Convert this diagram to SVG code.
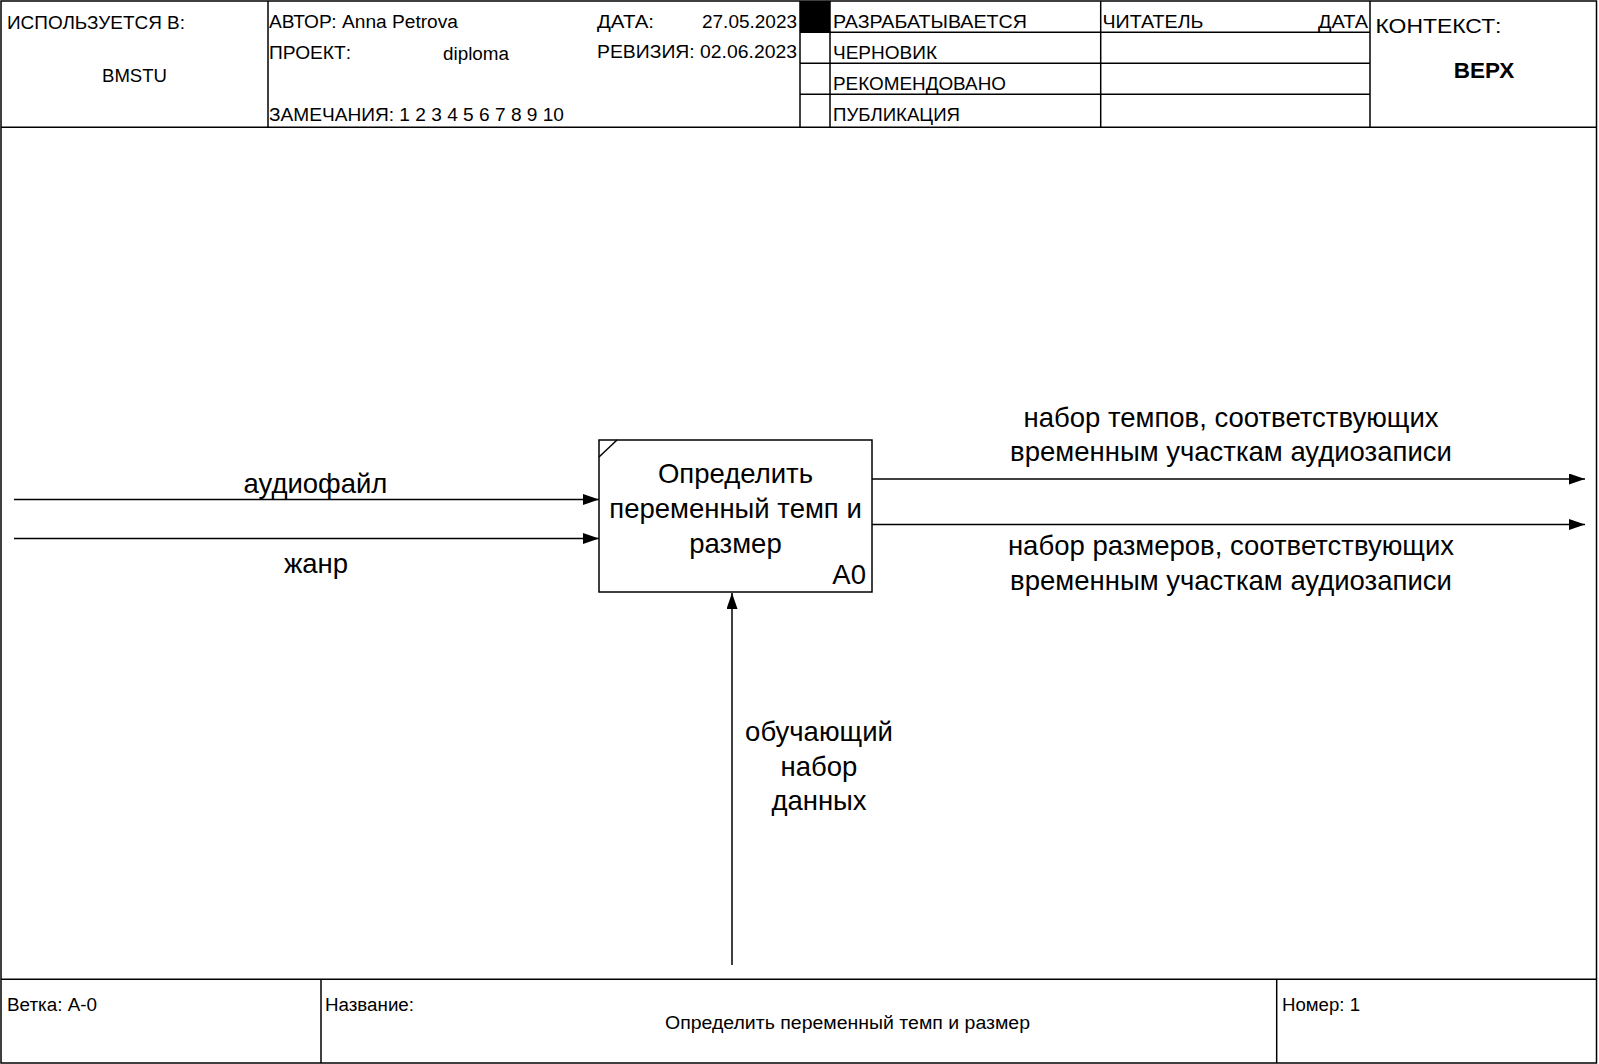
<svg xmlns="http://www.w3.org/2000/svg" width="1599" height="1064" viewBox="0 0 1599 1064">
<defs>
<style>
.ln{stroke:#000;stroke-width:1.5;fill:none}
.t{font-family:"Liberation Sans",Arial,sans-serif;fill:#000}
.s{font-size:18px}
.b{font-size:27.5px}
.c{text-anchor:middle}
</style>
<marker id="ah" viewBox="0 0 16 11" refX="16" refY="5.5" markerWidth="16" markerHeight="11" markerUnits="userSpaceOnUse" orient="auto">
<path d="M0,0 L16,5.5 L0,11 Z" fill="#000"/>
</marker>
</defs>
<rect x="0" y="0" width="1599" height="1064" fill="#fff"/>
<g id="frame">
<rect class="ln" x="1" y="1" width="1595.5" height="1062"/>
<line class="ln" x1="1" y1="127.3" x2="1596.5" y2="127.3"/>
<line class="ln" x1="268" y1="1" x2="268" y2="127.3"/>
<line class="ln" x1="800" y1="1" x2="800" y2="127.3"/>
<line class="ln" x1="830" y1="1" x2="830" y2="127.3"/>
<line class="ln" x1="1100.7" y1="1" x2="1100.7" y2="127.3"/>
<line class="ln" x1="1370" y1="1" x2="1370" y2="127.3"/>
<line class="ln" x1="800" y1="32.3" x2="1370" y2="32.3"/>
<line class="ln" x1="800" y1="63.3" x2="1370" y2="63.3"/>
<line class="ln" x1="800" y1="94.3" x2="1370" y2="94.3"/>
<rect x="800" y="1" width="30" height="31.3" fill="#000"/>
<line class="ln" x1="1" y1="979.3" x2="1596.5" y2="979.3"/>
<line class="ln" x1="321" y1="979.3" x2="321" y2="1063"/>
<line class="ln" x1="1276.7" y1="979.3" x2="1276.7" y2="1063"/>
</g>
<g id="header-text">
<text class="t s" x="7" y="29" textLength="178" lengthAdjust="spacingAndGlyphs">ИСПОЛЬЗУЕТСЯ В:</text>
<text class="t s" x="102" y="81.5" textLength="65" lengthAdjust="spacingAndGlyphs">BMSTU</text>
<text class="t s" x="269" y="28" textLength="189" lengthAdjust="spacingAndGlyphs">АВТОР: Anna Petrova</text>
<text class="t s" x="269" y="59" textLength="82" lengthAdjust="spacingAndGlyphs">ПРОЕКТ:</text>
<text class="t s" x="443" y="60" textLength="66" lengthAdjust="spacingAndGlyphs">diploma</text>
<text class="t s" x="269" y="121" textLength="295" lengthAdjust="spacingAndGlyphs">ЗАМЕЧАНИЯ: 1 2 3 4 5 6 7 8 9 10</text>
<text class="t s" x="597" y="28" textLength="57" lengthAdjust="spacingAndGlyphs">ДАТА:</text>
<text class="t s" x="702" y="28" textLength="95" lengthAdjust="spacingAndGlyphs">27.05.2023</text>
<text class="t s" x="597" y="58" textLength="200" lengthAdjust="spacingAndGlyphs">РЕВИЗИЯ: 02.06.2023</text>
<text class="t s" x="833" y="28" textLength="194" lengthAdjust="spacingAndGlyphs">РАЗРАБАТЫВАЕТСЯ</text>
<text class="t s" x="833" y="59" textLength="104" lengthAdjust="spacingAndGlyphs">ЧЕРНОВИК</text>
<text class="t s" x="833" y="90" textLength="173" lengthAdjust="spacingAndGlyphs">РЕКОМЕНДОВАНО</text>
<text class="t s" x="833" y="121" textLength="127" lengthAdjust="spacingAndGlyphs">ПУБЛИКАЦИЯ</text>
<text class="t s" x="1102.5" y="27.5" textLength="101" lengthAdjust="spacingAndGlyphs">ЧИТАТЕЛЬ</text>
<text class="t s" x="1318" y="27.5" textLength="50" lengthAdjust="spacingAndGlyphs">ДАТА</text>
<text class="t" style="font-size:21px" x="1375.5" y="33" textLength="126" lengthAdjust="spacingAndGlyphs">КОНТЕКСТ:</text>
<text class="t c" style="font-size:22.5px;font-weight:bold" x="1484" y="77.5">ВЕРХ</text>
</g>
<g id="footer-text">
<text class="t s" x="7" y="1011" textLength="90" lengthAdjust="spacingAndGlyphs">Ветка: A-0</text>
<text class="t s" x="325" y="1011" textLength="89" lengthAdjust="spacingAndGlyphs">Название:</text>
<text class="t s" x="665" y="1029" textLength="365" lengthAdjust="spacingAndGlyphs">Определить переменный темп и размер</text>
<text class="t s" x="1282" y="1011" textLength="78" lengthAdjust="spacingAndGlyphs">Номер: 1</text>
</g>
<g id="node-A0">
<rect class="ln" x="599" y="440" width="273" height="152"/>
<line class="ln" x1="599" y1="457" x2="617" y2="440"/>
<text class="t b c" x="735.5" y="483">Определить</text>
<text class="t b c" x="735.5" y="518">переменный темп и</text>
<text class="t b c" x="735.5" y="553">размер</text>
<text class="t b" x="866" y="584" text-anchor="end">A0</text>
</g>
<g id="connectors">
<line class="ln" x1="14" y1="499.5" x2="599" y2="499.5" marker-end="url(#ah)"/>
<line class="ln" x1="14" y1="538.5" x2="599" y2="538.5" marker-end="url(#ah)"/>
<line class="ln" x1="872" y1="479" x2="1585" y2="479" marker-end="url(#ah)"/>
<line class="ln" x1="872" y1="524.5" x2="1585" y2="524.5" marker-end="url(#ah)"/>
<line class="ln" x1="732" y1="965" x2="732" y2="593" marker-end="url(#ah)"/>
</g>
<g id="labels">
<text class="t b c" x="315.5" y="493">аудиофайл</text>
<text class="t b c" x="316" y="573">жанр</text>
<text class="t b c" x="1231" y="426.5">набор темпов, соответствующих</text>
<text class="t b c" x="1231" y="461">временным участкам аудиозаписи</text>
<text class="t b c" x="1231" y="555">набор размеров, соответствующих</text>
<text class="t b c" x="1231" y="589.5">временным участкам аудиозаписи</text>
<text class="t b c" x="819" y="741">обучающий</text>
<text class="t b c" x="819" y="775.5">набор</text>
<text class="t b c" x="819" y="810">данных</text>
</g>
</svg>
